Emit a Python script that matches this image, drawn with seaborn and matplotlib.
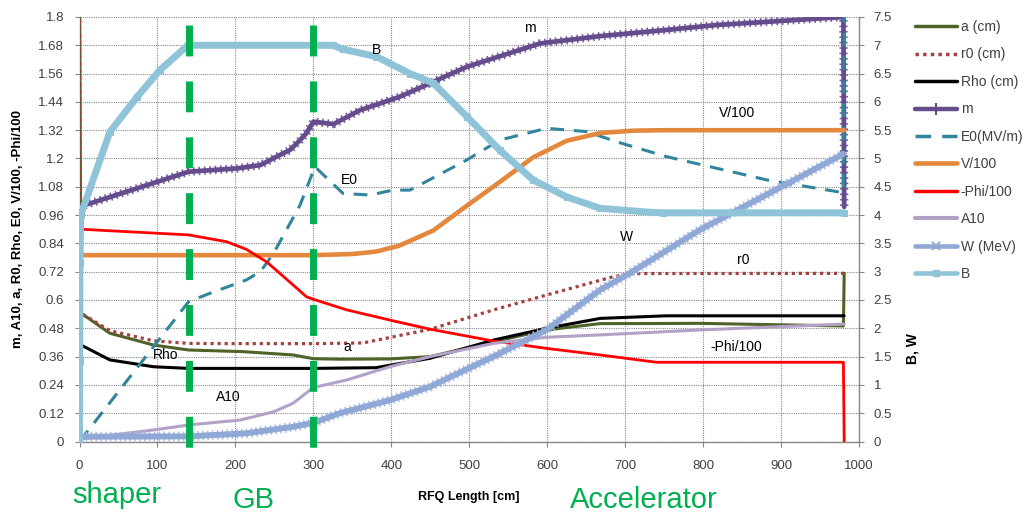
import numpy as np
import matplotlib
matplotlib.use("Agg")
import matplotlib.pyplot as plt
from matplotlib.lines import Line2D
import seaborn as sns

# ---------------- data ----------------
a_x = [0, 2, 39, 95, 140, 210, 274, 300, 334, 398, 450, 531, 599, 668, 706, 796, 980, 981]
a_y = [1.9, 0.544, 0.459, 0.409, 0.388, 0.381, 0.367, 0.351, 0.349, 0.350, 0.360, 0.423, 0.473, 0.500, 0.500, 0.501, 0.490, 0.713]

r0_x = [0, 2, 39, 95, 140, 200, 300, 364, 450, 531, 599, 685, 710, 981]
r0_y = [1.9, 0.544, 0.470, 0.427, 0.416, 0.415, 0.415, 0.418, 0.476, 0.558, 0.621, 0.699, 0.712, 0.713]

rho_x = [2, 39, 95, 140, 200, 300, 380, 450, 531, 599, 668, 753, 981]
rho_y = [0.409, 0.346, 0.317, 0.310, 0.310, 0.310, 0.313, 0.353, 0.430, 0.480, 0.522, 0.533, 0.533]

m_x = [0, 140, 202, 232, 253, 270, 283, 291, 300, 326, 360, 411, 497, 591, 668, 753, 817, 980, 981]
m_y = [0.995, 1.144, 1.158, 1.172, 1.208, 1.236, 1.278, 1.307, 1.356, 1.346, 1.405, 1.462, 1.589,
       1.688, 1.719, 1.745, 1.766, 1.800, 0.995]

e0_x = [0, 18, 140, 167, 214, 232, 249, 283, 302, 338, 373, 402, 424, 497, 539, 599, 651, 689,
        753, 809, 882, 980, 981]
e0_y = [0.0, 0.076, 0.593, 0.628, 0.685, 0.720, 0.798, 1.003, 1.165, 1.052, 1.045, 1.066, 1.066,
        1.194, 1.278, 1.328, 1.314, 1.271, 1.208, 1.165, 1.109, 1.055, 1.85]

v_x = [0, 300, 350, 380, 410, 454, 497, 539, 582, 625, 668, 710, 750, 981]
v_y = [0.79, 0.79, 0.795, 0.805, 0.830, 0.895, 1.000, 1.100, 1.205, 1.275, 1.308, 1.318, 1.320, 1.320]

phi_x = [2, 140, 189, 214, 240, 257, 274, 291, 300, 343, 398, 450, 531, 599, 668, 740, 980, 981]
phi_y = [0.900, 0.876, 0.847, 0.815, 0.762, 0.713, 0.664, 0.614, 0.603, 0.558, 0.515, 0.476,
         0.426, 0.395, 0.367, 0.336, 0.336, 0.0]

a10_x = [0, 95, 140, 206, 249, 274, 293, 300, 343, 398, 450, 531, 599, 668, 796, 981]
a10_y = [0.010, 0.049, 0.070, 0.091, 0.126, 0.162, 0.211, 0.229, 0.261, 0.317, 0.360, 0.416,
         0.442, 0.452, 0.473, 0.498]

w_x = [0, 2, 140, 214, 274, 300, 334, 398, 450, 531, 599, 668, 702, 796, 869, 980]
w_y = [0.0, 0.085, 0.09, 0.145, 0.26, 0.33, 0.50, 0.73, 0.97, 1.50, 1.97, 2.68, 2.94, 3.74, 4.27, 5.08]

b_x = [0, 0.3, 0.6, 1.5, 39, 74, 103, 139, 325, 338, 381, 424, 454, 497, 539, 582, 625, 668, 732, 749, 981]
b_y = [0.0, 1.42, 3.15, 4.0, 5.47, 6.09, 6.56, 7.0, 7.0, 6.93, 6.8, 6.5, 6.33, 5.74, 5.15, 4.62,
       4.32, 4.12, 4.05, 4.04, 4.04]

section_bounds = [140, 300]
section_names = ["shaper", "GB", "Accelerator"]

x_ticks = list(range(0, 1001, 100))
left_ticks = [0, 0.12, 0.24, 0.36, 0.48, 0.6, 0.72, 0.84, 0.96, 1.08, 1.2, 1.32, 1.44, 1.56, 1.68, 1.8]
left_tick_labels = ["0", "0.12", "0.24", "0.36", "0.48", "0.6", "0.72", "0.84", "0.96", "1.08",
                    "1.2", "1.32", "1.44", "1.56", "1.68", "1.8"]
right_ticks = [0, 0.5, 1, 1.5, 2, 2.5, 3, 3.5, 4, 4.5, 5, 5.5, 6, 6.5, 7, 7.5]
right_tick_labels = ["0", "0.5", "1", "1.5", "2", "2.5", "3", "3.5", "4", "4.5", "5", "5.5", "6",
                     "6.5", "7", "7.5"]

# ---------------- style ----------------
sns.set_style("white")
plt.rcParams['font.family'] = ['Liberation Sans', 'DejaVu Sans']

C_A = "#4F6228"
C_R0 = "#A5423F"
C_RHO = "#000000"
C_M = "#654C8C"
C_M2 = "#7F66A6"
C_E0 = "#31859C"
C_V = "#E3883C"
C_PHI = "#FF0000"
C_A10 = "#B3A2C7"
C_W = "#90A8D6"
C_W2 = "#A9BCE2"
C_B = "#8FC4D8"
C_GREEN = "#00B050"
C_SPINE = "#868686"
C_TXT = "#404040"

fig = plt.figure(figsize=(10.35, 5.15), dpi=100)
L, R, T, B = 79.5, 859.0, 17.0, 441.5
ax = fig.add_axes([L / 1035, 1 - B / 515, (R - L) / 1035, (B - T) / 515])
ax2 = ax.twinx()

def line(axis, x, y, **kw):
    sns.lineplot(x=x, y=y, ax=axis, sort=False, estimator=None, **kw)

# primary axis series
line(ax, a_x, a_y, color=C_A, lw=2.2, zorder=3)
line(ax, r0_x, r0_y, color=C_R0, lw=2.3, linestyle=(0, (1, 1.2)), zorder=3)
line(ax, rho_x, rho_y, color=C_RHO, lw=2.2, zorder=3)
line(ax, m_x, m_y, color=C_M2, lw=6, linestyle=(0, (0.2, 0.45)), zorder=3)
line(ax, m_x, m_y, color=C_M, lw=3.4, zorder=3)
line(ax, e0_x, e0_y, color=C_E0, lw=2.2, linestyle=(0, (4.5, 3.2)), zorder=3)
line(ax, v_x, v_y, color=C_V, lw=3.3, zorder=3)
line(ax, phi_x, phi_y, color=C_PHI, lw=2.0, zorder=3)
line(ax, a10_x, a10_y, color=C_A10, lw=2.2, zorder=3)

# secondary axis series
line(ax2, w_x, w_y, color=C_W2, lw=7, linestyle=(0, (0.15, 0.35)), zorder=3)
line(ax2, w_x, w_y, color=C_W, lw=4.3, zorder=3)
line(ax2, b_x, b_y, color=C_B, lw=5, marker='s', ms=4.5, mec=C_B, mfc=C_B, zorder=3)

# section boundaries (green dashed)
for xb in section_bounds:
    ax2.plot([xb, xb], [(B - 25.5) / (B - T), (B - 450) / (B - T)],
             transform=ax2.get_xaxis_transform(), color=C_GREEN, lw=5,
             linestyle=(0, (4.45, 3.6)), solid_capstyle='butt', dash_capstyle='butt',
             clip_on=False, zorder=10)

# axes formatting
ax.set_xlim(0, 1000)
ax.set_ylim(0, 1.8)
ax2.set_ylim(0, 7.5)
ax.set_xticks(x_ticks)
ax.set_xticklabels([str(v) for v in x_ticks])
ax.set_yticks(left_ticks)
ax.set_yticklabels(left_tick_labels)
ax2.set_yticks(right_ticks)
ax2.set_yticklabels(right_tick_labels)

ax.grid(True, color="#8a8a8a", linestyle=(0, (1, 1)), lw=0.8)
ax.set_axisbelow(True)
ax2.grid(False)

for s in ["top", "right"]:
    ax.spines[s].set_visible(False)
for s in ["top", "left", "bottom"]:
    ax2.spines[s].set_visible(False)
for s in ["left", "bottom"]:
    ax.spines[s].set_color(C_SPINE)
    ax.spines[s].set_linewidth(1)
ax2.spines["right"].set_color(C_SPINE)
ax2.spines["right"].set_linewidth(1)

ax.tick_params(axis='y', direction='out', length=3.6, width=0.8, color=C_SPINE,
               labelsize=9.5, labelcolor=C_TXT, pad=7.5, left=True)
ax.tick_params(axis='x', direction='out', length=3.6, width=0.8, color=C_SPINE,
               labelsize=9.5, labelcolor=C_TXT, pad=10, bottom=True)
ax2.tick_params(axis='y', direction='out', length=3.6, width=0.8, color=C_SPINE,
                labelsize=9.5, labelcolor=C_TXT, pad=7, right=True)

ax.set_xlabel("RFQ Length [cm]", fontsize=9, fontweight='bold', color="#000000")
ax.xaxis.set_label_coords(0.5, (B - 497) / (B - T))
ax.xaxis.label.set_va('center')
ax.set_ylabel("m, A10, a, R0, Rho, E0, V/100, -Phi/100", fontsize=9.5, fontweight='bold',
              color="#000000")
ax.yaxis.set_label_coords((18 - L) / (R - L), 0.5)
ax.yaxis.label.set_va('center')
ax2.set_ylabel("B, W", fontsize=10, fontweight='bold', color="#000000", rotation=90)
ax2.yaxis.set_label_coords((913 - L) / (R - L), (B - 349) / (B - T))
ax2.yaxis.label.set_va('center')

# in-plot series labels (left-axis data coordinates)
series_labels = [("m", 578, 1.753), ("B", 381, 1.66), ("E0", 346, 1.109), ("V/100", 843, 1.393),
                 ("W", 702, 0.867), ("r0", 851, 0.77), ("a", 343, 0.402), ("Rho", 110, 0.367),
                 ("A10", 191, 0.189), ("-Phi/100", 843, 0.401)]
for s, xx, yy in series_labels:
    ax2.text(xx, yy, s, transform=ax.transData, fontsize=10, color="#000000",
             ha='center', va='center', zorder=11)

# legend
handles = [
    Line2D([], [], color=C_A, lw=2.5),
    Line2D([], [], color=C_R0, lw=2.5, linestyle=(0, (1, 1.2))),
    Line2D([], [], color=C_RHO, lw=2.5),
    Line2D([], [], color=C_M, lw=3.2, marker='|', ms=9, mew=1.5),
    Line2D([], [], color=C_E0, lw=2.5, linestyle=(0, (4.5, 3.2))),
    Line2D([], [], color=C_V, lw=3.3),
    Line2D([], [], color=C_PHI, lw=2.5),
    Line2D([], [], color=C_A10, lw=3),
    Line2D([], [], color=C_W, lw=3.3, marker='x', ms=6, mew=1.5),
    Line2D([], [], color=C_B, lw=3.3, marker='s', ms=5),
]
labels = ["a (cm)", "r0 (cm)", "Rho (cm)", "m", "E0(MV/m)", "V/100", "-Phi/100", "A10",
          "W (MeV)", "B"]
fig.legend(handles, labels, loc='upper left', bbox_to_anchor=(915 / 1035, 1 - 20 / 515),
           bbox_transform=fig.transFigure, frameon=False, fontsize=10, borderpad=0,
           borderaxespad=0, handlelength=3.0, handletextpad=0.3, labelspacing=0.97,
           labelcolor=C_TXT)

# section names below the chart
fig.text(72 / 1035, 1 - 503 / 515, section_names[0], fontsize=21, color=C_GREEN,
         ha='left', va='baseline')
fig.text(232 / 1035, 1 - 508 / 515, section_names[1], fontsize=21, color=C_GREEN,
         ha='left', va='baseline')
fig.text(570 / 1035, 1 - 508 / 515, section_names[2], fontsize=21, color=C_GREEN,
         ha='left', va='baseline')

fig.savefig("out.png", dpi=100)
